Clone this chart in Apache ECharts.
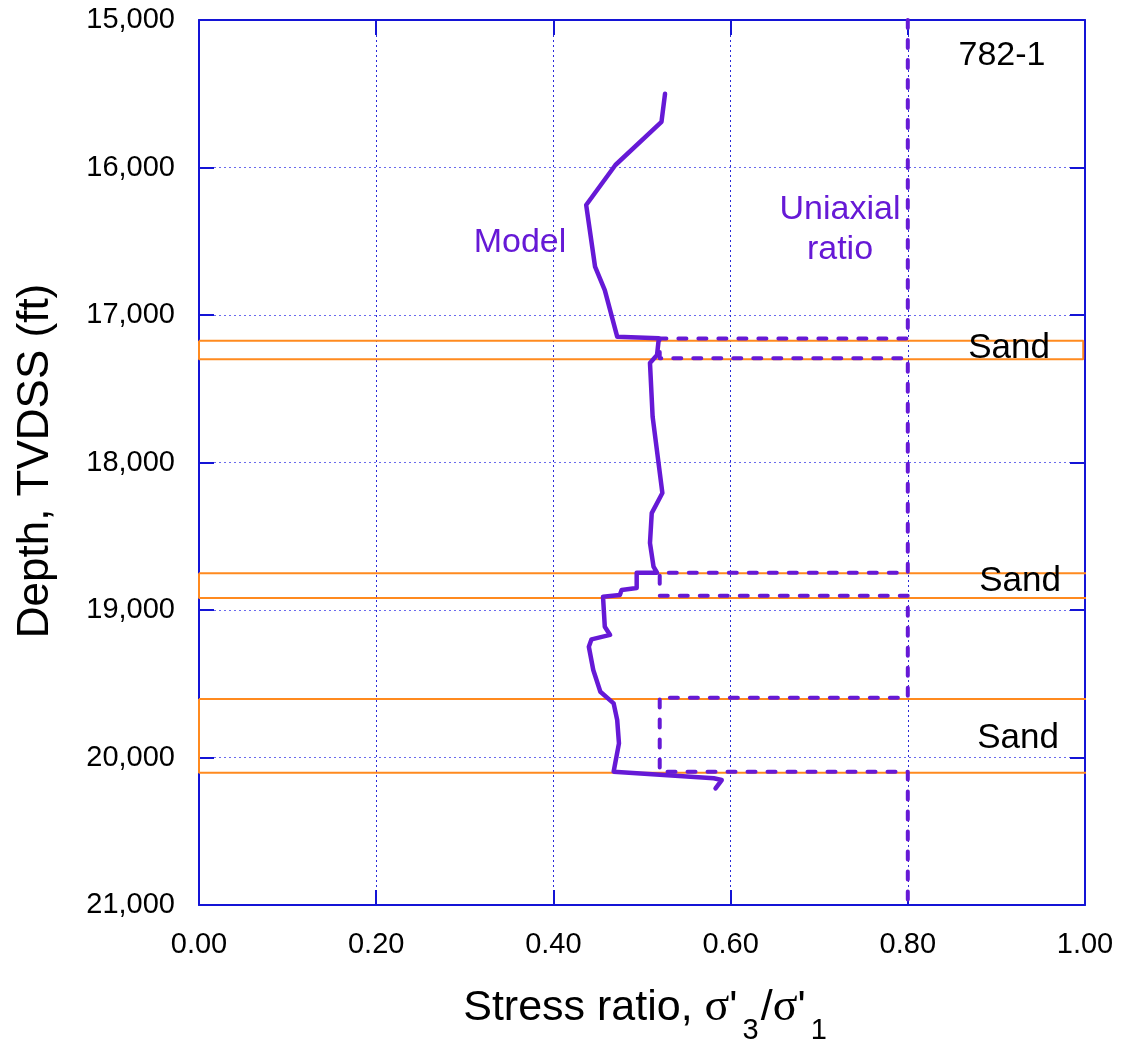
<!DOCTYPE html>
<html>
<head>
<meta charset="utf-8">
<script src="https://cdn.jsdelivr.net/npm/echarts@6/dist/echarts.min.js"></script>
<style>
html,body{margin:0;padding:0;background:#fff;}
#chart{width:1122px;height:1064px;}
</style>
</head>
<body>
<div id="chart"></div>
<script>
// ---- data ----
const xTicks = [0, 0.2, 0.4, 0.6, 0.8, 1.0];
const yTicks = [15000, 16000, 17000, 18000, 19000, 20000, 21000];

const modelDepth = [15500, 15690, 15983, 16254, 16672, 16831, 17147, 17158, 17271, 17325,
  17690, 18207, 18343, 18546, 18706, 18747, 18747, 18851, 18864, 18898, 18910,
  19113, 19169, 19199, 19249, 19407, 19554, 19633, 19746, 19904, 20096, 20141, 20153, 20209];
const modelRatio = [0.526, 0.522, 0.470, 0.437, 0.447, 0.458, 0.472, 0.519, 0.517, 0.509,
  0.512, 0.523, 0.511, 0.509, 0.513, 0.517, 0.494, 0.494, 0.477, 0.475, 0.456,
  0.458, 0.464, 0.443, 0.440, 0.445, 0.453, 0.468, 0.472, 0.474, 0.468, 0.581, 0.590, 0.583];

const uniaxialDepth = [15000, 17160, 17160, 17294, 17294, 18748, 18748, 18903, 18903, 19595, 19595, 20097, 20097, 21000];
const uniaxialRatio = [0.80, 0.80, 0.52, 0.52, 0.80, 0.80, 0.52, 0.52, 0.80, 0.80, 0.52, 0.52, 0.80, 0.80];

const sandTop = [17175, 18751, 19603];
const sandBase = [17300, 18919, 20103];
const sandRight = [0.998, 1.004, 1.003];
const sandLabel = ['Sand', 'Sand', 'Sand'];

const wellName = '782-1';
const modelLabel = 'Model';
const uniaxialLabel = 'Uniaxial\nratio';
const xTitle = 'Stress ratio, ';
const yTitle = 'Depth, TVDSS (ft)';

// ---- chart ----
const BLUE = '#1414d6';
const PURPLE = '#6619d6';
const ORANGE = '#ff8a1f';
const FONT = '"Liberation Sans", Arial, sans-serif';

const chart = echarts.init(document.getElementById('chart'), null, {renderer: 'canvas'});

function fmtDepth(v) {
  return String(Math.round(v)).replace(/\B(?=(\d{3})+(?!\d))/g, ',');
}

const baseX = {
  type: 'value', min: xTicks[0], max: xTicks[xTicks.length - 1], interval: 0.2,
  axisLine: {show: true, onZero: false, lineStyle: {color: BLUE, width: 2}},
  axisTick: {show: true, inside: true, length: 15, lineStyle: {color: BLUE, width: 2}}
};
const baseY = {
  type: 'value', min: yTicks[0], max: yTicks[yTicks.length - 1], interval: 1000, inverse: true,
  axisLine: {show: true, onZero: false, lineStyle: {color: BLUE, width: 2}},
  axisTick: {show: true, inside: true, length: 15, lineStyle: {color: BLUE, width: 2}}
};

const series = [];
sandTop.forEach((t, i) => {
  const b = sandBase[i], r = sandRight[i];
  series.push({
    type: 'line', xAxisIndex: 0, yAxisIndex: 0, clip: false, silent: true,
    symbol: 'none', z: 2,
    lineStyle: {color: ORANGE, width: 2},
    data: [[0, t], [r, t], [r, b], [0, b], [0, t]]
  });
});
series.push({
  type: 'line', xAxisIndex: 0, yAxisIndex: 0, clip: false, silent: true, symbol: 'none', z: 3,
  lineStyle: {color: PURPLE, width: 4, type: [8, 12], cap: 'round', join: 'round'},
  data: uniaxialDepth.map((d, i) => [uniaxialRatio[i], d])
});
series.push({
  type: 'line', xAxisIndex: 0, yAxisIndex: 0, clip: false, silent: true, symbol: 'none', z: 4,
  lineStyle: {color: PURPLE, width: 4.5, join: 'round', cap: 'round'},
  data: modelDepth.map((d, i) => [modelRatio[i], d])
});

const graphics = [];
sandLabel.forEach((s, i) => {
  const pos = [[1009, 348], [1020, 581], [1018, 738]][i];
  graphics.push({type: 'text', x: pos[0], y: pos[1], z: 10,
    style: {text: s, fill: '#000', font: '35px ' + FONT, textAlign: 'center', textVerticalAlign: 'middle'}});
});
graphics.push({type: 'text', x: 1002, y: 56, z: 10,
  style: {text: wellName, fill: '#000', font: '34px ' + FONT, textAlign: 'center', textVerticalAlign: 'middle'}});
graphics.push({type: 'text', x: 520, y: 243, z: 10,
  style: {text: modelLabel, fill: PURPLE, font: '34px ' + FONT, textAlign: 'center', textVerticalAlign: 'middle'}});
graphics.push({type: 'text', x: 840, y: 230, z: 10,
  style: {text: uniaxialLabel, fill: PURPLE, font: '34px ' + FONT, lineHeight: 40, textAlign: 'center', textVerticalAlign: 'middle'}});
graphics.push({type: 'text', x: 36, y: 461, rotation: Math.PI / 2, z: 10,
  style: {text: yTitle, fill: '#000', font: '44px ' + FONT, textAlign: 'center', textVerticalAlign: 'middle'}});
graphics.push({type: 'text', x: 646, y: 1008, z: 10,
  style: {
    text: '{a|' + xTitle + '}{s|σ}{a|\'}{b|3}{a|/}{s|σ}{a|\'}{b|1}',
    textAlign: 'center', textVerticalAlign: 'middle',
    rich: {
      a: {fontFamily: FONT, fontSize: 43, fill: '#000'},
      s: {fontFamily: '"Liberation Serif", serif', fontSize: 46, fill: '#000'},
      b: {fontFamily: FONT, fontSize: 29, fill: '#000', padding: [46, 2, 0, 5]}
    }
  }});

chart.setOption({
  animation: false,
  backgroundColor: '#fff',
  grid: {left: 199, right: 37, top: 20, bottom: 159, containLabel: false},
  xAxis: [
    Object.assign({}, baseX, {
      position: 'bottom',
      axisLabel: {show: true, fontFamily: FONT, fontSize: 29, color: '#000', margin: 25,
        formatter: v => v.toFixed(2)},
      splitLine: {show: true, lineStyle: {color: '#2a2ad8', width: 1, type: [2, 3]}}
    }),
    Object.assign({}, baseX, {
      position: 'top', axisLabel: {show: false}, splitLine: {show: false}
    })
  ],
  yAxis: [
    Object.assign({}, baseY, {
      position: 'left',
      axisLabel: {show: true, fontFamily: FONT, fontSize: 29, color: '#000', margin: 24,
        formatter: v => fmtDepth(v)},
      splitLine: {show: true, lineStyle: {color: '#6a6aee', width: 1, type: [2, 3]}}
    }),
    Object.assign({}, baseY, {
      position: 'right', axisLabel: {show: false}, splitLine: {show: false}
    })
  ],
  series: series,
  graphic: graphics
});
</script>
</body>
</html>
